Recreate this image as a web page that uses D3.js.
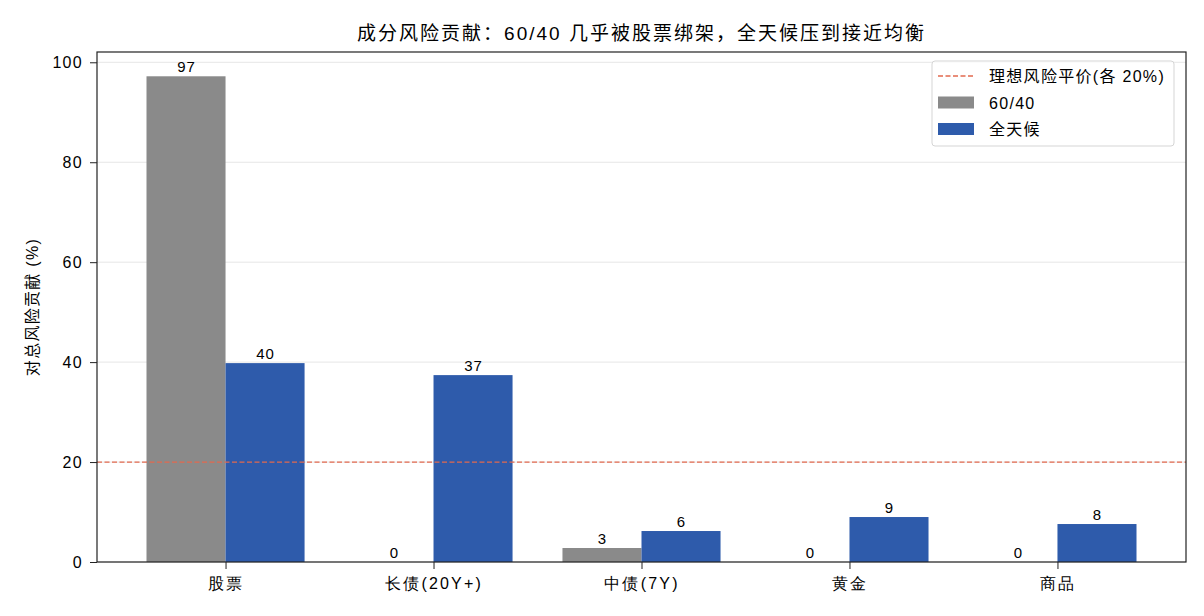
<!DOCTYPE html>
<html>
<head>
<meta charset="utf-8">
<script src="https://cdn.jsdelivr.net/npm/d3@7"></script>
<style>
  body { margin: 0; background: #fff; }
  svg { font-family: "Liberation Sans", Arial, "Noto Sans CJK SC", sans-serif; }
</style>
</head>
<body>
<div id="chart"></div>
<script>
const categories = ["股票", "长债(20Y+)", "中债(7Y)", "黄金", "商品"];
const series6040 = [97.2, 0, 2.8, 0, 0];
const seriesAllWeather = [39.8, 37.4, 6.2, 9.0, 7.6];
const yTicks = [0, 20, 40, 60, 80, 100];
const parityLevel = 20;

const width = 1204, height = 616;
const marginLeft = 97, marginRight = 18, marginTop = 52, marginBottom = 54;
const barWidth = 0.38;
const ls = "1.3px";

const svg = d3.select("#chart").append("svg")
    .attr("width", width)
    .attr("height", height)
    .attr("viewBox", [0, 0, width, height]);

const x = d3.scaleLinear()
    .domain([-0.618, categories.length - 1 + 0.618])
    .range([marginLeft, width - marginRight]);

const y = d3.scaleLinear()
    .domain([0, 102.06])
    .range([height - marginBottom, marginTop]);

// grid
svg.append("g")
    .selectAll("line")
    .data(yTicks)
    .join("line")
    .attr("x1", marginLeft)
    .attr("x2", width - marginRight)
    .attr("y1", d => y(d))
    .attr("y2", d => y(d))
    .attr("stroke", "#e6e6e6")
    .attr("stroke-width", 1);

// bars
const groups = [
    { name: "60/40", values: series6040, color: "#8a8a8a", offset: -barWidth / 2 },
    { name: "全天候", values: seriesAllWeather, color: "#2e5bab", offset: barWidth / 2 }
];

groups.forEach(g => {
    const bw = x(barWidth) - x(0);
    svg.append("g")
        .selectAll("rect")
        .data(g.values)
        .join("rect")
        .attr("x", (d, i) => x(i + g.offset) - bw / 2)
        .attr("width", bw)
        .attr("y", d => y(d))
        .attr("height", d => y(0) - y(d))
        .attr("fill", g.color);

    svg.append("g")
        .selectAll("text")
        .data(g.values)
        .join("text")
        .attr("x", (d, i) => x(i + g.offset) + 0.5)
        .attr("y", d => y(d) - 4)
        .attr("text-anchor", "middle")
        .attr("font-size", 15)
        .style("letter-spacing", "1px")
        .attr("fill", "#000")
        .text(d => Math.round(d));
});

// parity line
svg.append("line")
    .attr("x1", marginLeft)
    .attr("x2", width - marginRight)
    .attr("y1", y(parityLevel))
    .attr("y2", y(parityLevel))
    .attr("stroke", "#e2694f")
    .attr("stroke-width", 1.3)
    .attr("stroke-dasharray", "5,2.5");

// axes
const yAxis = svg.append("g")
    .attr("transform", `translate(${marginLeft},0)`)
    .call(d3.axisLeft(y).tickValues(yTicks).tickSize(7).tickPadding(7).tickSizeOuter(0));
yAxis.select(".domain").remove();
yAxis.selectAll("text").attr("font-size", 16).style("letter-spacing", ls).attr("fill", "#000");
yAxis.selectAll("line").attr("stroke", "#222");

const xAxis = svg.append("g")
    .attr("transform", `translate(0,${height - marginBottom})`)
    .call(d3.axisBottom(x).tickValues(d3.range(categories.length)).tickFormat(i => categories[i]).tickSize(7).tickPadding(9).tickSizeOuter(0));
xAxis.select(".domain").remove();
xAxis.selectAll("text").attr("font-size", 16).style("letter-spacing", "2.2px").attr("fill", "#000");
xAxis.selectAll("line").attr("stroke", "#222");

// frame
svg.append("rect")
    .attr("x", marginLeft)
    .attr("y", marginTop)
    .attr("width", width - marginRight - marginLeft)
    .attr("height", height - marginBottom - marginTop)
    .attr("fill", "none")
    .attr("stroke", "#222")
    .attr("stroke-width", 1.2);

// title
svg.append("text")
    .attr("x", (marginLeft + width - marginRight) / 2)
    .attr("y", 40)
    .attr("text-anchor", "middle")
    .attr("font-size", 19)
    .style("letter-spacing", "2px")
    .text("成分风险贡献：60/40 几乎被股票绑架，全天候压到接近均衡");

// y label
svg.append("text")
    .attr("transform", `translate(38,${(marginTop + height - marginBottom) / 2}) rotate(-90)`)
    .attr("text-anchor", "middle")
    .attr("font-size", 16)
    .style("letter-spacing", ls)
    .text("对总风险贡献 (%)");

// legend
const lg = svg.append("g").attr("transform", "translate(932,61)");
lg.append("rect")
    .attr("width", 242)
    .attr("height", 85)
    .attr("rx", 3)
    .attr("fill", "#fff")
    .attr("fill-opacity", 0.8)
    .attr("stroke", "#d5d5d5");

const legendItems = [
    { label: "理想风险平价(各 20%)", type: "line", color: "#e2694f" },
    { label: groups[0].name, type: "rect", color: groups[0].color },
    { label: groups[1].name, type: "rect", color: groups[1].color }
];
legendItems.forEach((d, i) => {
    const cy = 15 + i * 26.5;
    if (d.type === "line") {
        lg.append("line")
            .attr("x1", 6).attr("x2", 42)
            .attr("y1", cy).attr("y2", cy)
            .attr("stroke", d.color)
            .attr("stroke-width", 1.3)
            .attr("stroke-dasharray", "5,2.5");
    } else {
        lg.append("rect")
            .attr("x", 6).attr("y", cy - 6)
            .attr("width", 36).attr("height", 12)
            .attr("fill", d.color);
    }
    lg.append("text")
        .attr("x", 57)
        .attr("y", cy + 6)
        .attr("font-size", 16)
        .style("letter-spacing", ls)
        .text(d.label);
});
</script>
</body>
</html>
